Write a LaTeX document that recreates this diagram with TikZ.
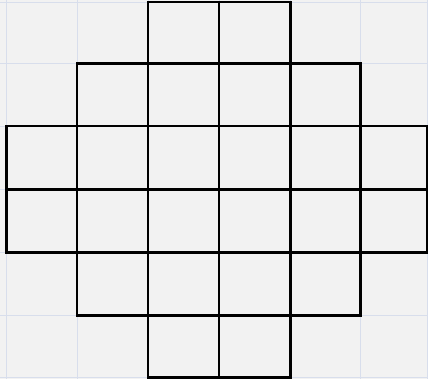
\documentclass[tikz,border=0pt]{standalone}
\usepackage{tikz}
\usepackage{xcolor}
\definecolor{paper}{HTML}{F2F2F2}
\definecolor{gridblue}{HTML}{D8DEEC}
\newcommand{\colx}{{6.5,77,148,219,290,360,427}}
\newcommand{\rowy}{{2,63.5,126,189,252,315,377}}

\begin{document}
\begin{tikzpicture}[x=0.02cm, y=-0.02cm]
\tikzstyle{cell}=[draw=black, line width=1.7pt]
\tikzstyle{faint}=[draw=gridblue, line width=0.5pt]
\fill[paper] (0,0) rectangle (428,379);
\useasboundingbox (0,0) rectangle (428,379);
% light background grid
\foreach \i in {0,...,6} {
  \pgfmathsetmacro{\gx}{\colx[\i]}
  \pgfmathsetmacro{\gy}{\rowy[\i]}
  \draw[faint] (\gx, 0) -- (\gx, 379);
  \draw[faint] (0, \gy) -- (428, \gy);
}
% black cells, row by row
\foreach \r/\a/\b in {0/2/3, 1/1/4, 2/0/5, 3/0/5, 4/1/4, 5/2/3} {
  \foreach \c in {\a,...,\b} {
    \pgfmathsetmacro{\xl}{\colx[\c]}
    \pgfmathsetmacro{\xr}{\colx[\c+1]}
    \pgfmathsetmacro{\yt}{\rowy[\r]}
    \pgfmathsetmacro{\yb}{\rowy[\r+1]}
    \draw[cell] (\xl, \yt) rectangle (\xr, \yb);
  }
}
\end{tikzpicture}
\end{document}
